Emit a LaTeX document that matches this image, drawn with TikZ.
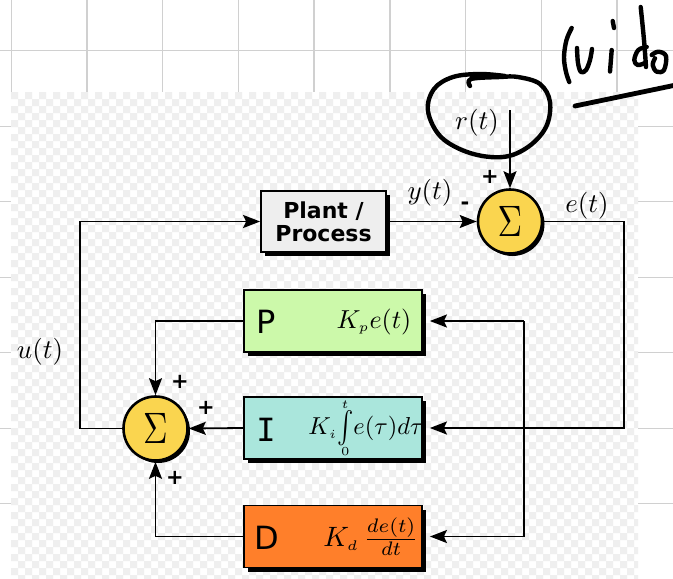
\documentclass[tikz,border=0pt]{standalone}
\usepackage{fontspec}
\newfontfamily\dvsans{DejaVu Sans}
\newfontfamily\dvmono{DejaVu Sans Mono}
\usetikzlibrary{arrows.meta,shadows}
\definecolor{gridgray}{HTML}{D0D0D0}
\definecolor{checkgray}{HTML}{EFEFEF}
\definecolor{sumyellow}{HTML}{FAD54F}
\definecolor{plantgray}{HTML}{EEEEEE}
\definecolor{pgreen}{HTML}{CCF9AA}
\definecolor{iteal}{HTML}{AAE6DC}
\definecolor{dorange}{HTML}{FF7F2A}
% math is set at 10pt and enlarged as a whole
\newcommand\mbig[2]{\scalebox{#1}{$#2$}}
% integral with tiny limits stacked tightly above and below
\newcommand\tallint{\mathop{\vcenter{\offinterlineskip\halign{\hfil##\hfil\cr
  $\scriptscriptstyle t$\cr\noalign{\kern0.8pt}
  \scalebox{1}[1.3]{$\int$}\cr\noalign{\kern0.8pt}
  $\scriptscriptstyle 0$\cr}}}}
\newcommand\sumglyph{\scalebox{3.4}[4.4]{$\Sigma$}}

\begin{document}
\begin{tikzpicture}[x=1pt,y=-1pt,
  gridline/.style={draw=gridgray,line width=1.4pt},
  wire/.style={draw=black,line width=1.8pt},
  tip/.style={-{Stealth[length=17pt,width=13pt,inset=3pt]}},
  blockbox/.style={draw=black,line width=1.8pt,inner sep=0pt,
    drop shadow={shadow xshift=4pt,shadow yshift=-4pt,fill=black,opacity=1}},
  pidbox/.style={blockbox,minimum width=178pt,minimum height=62pt},
  sumnode/.style={circle,draw=black,line width=2.6pt,fill=sumyellow,
    minimum size=64pt,inner sep=0pt,
    drop shadow={shadow xshift=2.5pt,shadow yshift=-2.5pt,fill=black,opacity=1}},
  mathlbl/.style={inner sep=0pt},
  sign/.style={inner sep=0pt,font=\dvsans\bfseries\fontsize{21}{21}\selectfont},
  pidletter/.style={inner sep=0pt,font=\dvsans\fontsize{32}{32}\selectfont},
  ink/.style={draw=black,line width=4.4pt,line cap=round,line join=round}
]
\useasboundingbox (0,0) rectangle (673,579);
\fill[white] (0,0) rectangle (673,579);

% squared paper
\foreach \gx in {0,...,8} \draw[gridline] ({11.3+75.7*\gx},0) -- ++(0,579);
\foreach \gy in {0,...,7} \draw[gridline] (0,{50.7+75.5*\gy}) -- ++(673,0);

% pasted panel with transparent checker background
\fill[white] (11,92) rectangle (638,579);
\begin{scope}
  \clip (11,92) rectangle (638,579);
  \fill[checkgray] \foreach \i in {0,...,89} { \foreach \j in {0,2,...,68} {
    ({11+7*\i},{92+7*(\j+mod(\i,2))}) rectangle ++(7,7) } };
\end{scope}

% blocks
\node[blockbox,fill=plantgray,minimum width=125pt,minimum height=61pt,
  font=\dvsans\bfseries\fontsize{22}{23}\selectfont,align=center]
  (plant) at (323.5,221.5) {Plant /\\Process};
\node[pidbox,fill=pgreen]   (P) at (333,321)   {};
\node[pidbox,fill=iteal]    (I) at (333,428)   {};
\node[pidbox,fill=dorange]  (D) at (333,536.5) {};

\node[pidletter] (Pl) at (266.5,321.5) {P};
\node[pidletter,font=\dvmono\fontsize{32}{32}\selectfont] (Il) at (266,429.5) {I};
\node[pidletter] (Dl) at (267,537.5) {D};

\node[mathlbl] (Pm) at (374,321.5) {\mbig{2.6}{K_{\scriptscriptstyle p}e(t)}};
\node[mathlbl] (Im) at (366,428.5) {\mbig{2.45}{K_{\scriptscriptstyle i}\!\tallint\! e(\tau)d\tau}};
\node[mathlbl] (Dm) at (371,537) {\mbig{2.8}{K_{\scriptscriptstyle d}\,\frac{de(t)}{dt}}};

% summing junctions
\node[sumnode] (S1) at (510,221.5) {\sumglyph};
\node[sumnode] (S2) at (155.5,428.5) {\sumglyph};

% signals
\coordinate (rin) at (510,110);
\coordinate (eR) at (624,0);
\coordinate (br) at (524,0);
\coordinate (uL) at (80,0);

\draw[wire,tip] (rin) -- (S1.north);
\draw[wire,tip] (plant.east) -- (S1.west);
\draw[wire,tip,shorten >=7pt] (S1.east) -| (eR |- I.east) -- (I.east);
\draw[wire] (br |- P.east) -- (br |- D.east);
\draw[wire,tip,shorten >=7pt] (br |- P.east) -- (P.east);
\draw[wire,tip,shorten >=7pt] (br |- D.east) -- (D.east);
\draw[wire,tip] (P.west) -| (S2.north);
\draw[wire,tip] (I.west) -- (S2.east);
\draw[wire,tip] (D.west) -| (S2.south);
\draw[wire,tip] (S2.west) -| (uL |- plant.west) -- (plant.west);

% labels
\node[mathlbl] (rlab) at (477,123) {\mbig{2.7}{r(t)}};
\node[mathlbl] (ylab) at (430,193) {\mbig{2.7}{y(t)}};
\node[mathlbl] (elab) at (587,206) {\mbig{2.7}{e(t)}};
\node[mathlbl] (ulab) at (40,352) {\mbig{2.7}{u(t)}};
\node[sign] (s1p) at (490,177) {+};
\node[sign] (s1m) at (465,206) {-};
\node[sign] (s2a) at (180,382) {+};
\node[sign] (s2b) at (206,408) {+};
\node[sign] (s2c) at (175,478) {+};

% pen annotations
\draw[ink] plot[smooth,tension=0.6] coordinates {(470,86) (471,79) (500,77) (518,77)
  (540,84) (550,102) (546,127) (528,147) (503,157) (470,153) (441,137) (428,111)
  (434,89) (453,77) (480,74) (505,76)};
\draw[ink] plot[smooth,tension=0.6] coordinates {(571.7,28) (566.5,40) (564,57) (566,72) (569.3,82)};
\draw[ink] plot[smooth,tension=0.6] coordinates {(577,48) (578,63) (581,72) (586,70) (590,60) (592,49)};
\draw[ink] (611.7,50) -- (610,71.5);
\draw[ink] (612.7,21) -- (614,28);
\draw[ink] plot[smooth,tension=0.6] coordinates {(640.7,7) (644,40) (646,67)};
\draw[ink] plot[smooth,tension=0.6] coordinates {(646.7,47) (638.3,50) (634.3,60) (637.7,65) (645,63)};
\draw[ink] plot[smooth,tension=0.6] coordinates {(651.7,55) (658.3,51.7) (666,56) (664,70) (656.7,71.7) (652.7,65) (655,58.3)};
\draw[ink,line width=4.8pt] (575,106) -- (676,85);
\end{tikzpicture}
\end{document}
